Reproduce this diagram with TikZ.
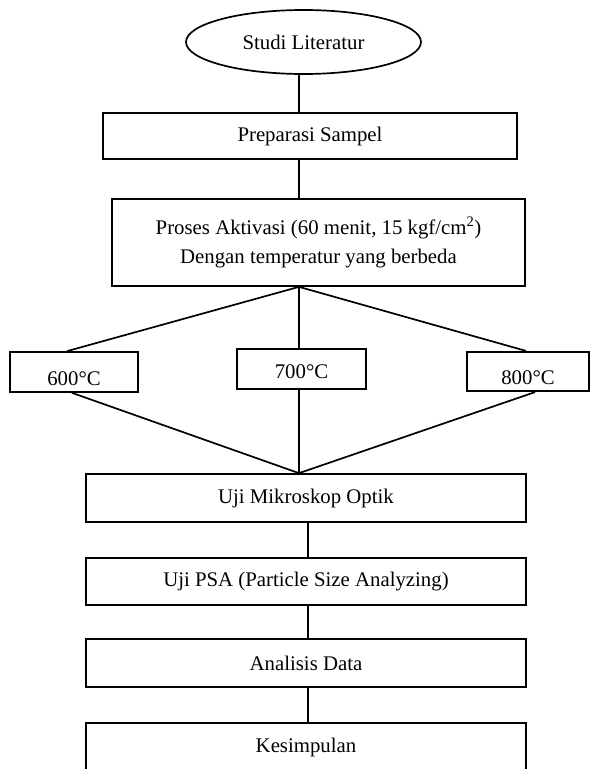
\documentclass[tikz,border=0pt]{standalone}
\usepackage{fontspec}
\setmainfont{Liberation Serif}
\usetikzlibrary{shapes.geometric}

% lower a label inside its box without changing the box
\newcommand{\lowertext}[2]{\raisebox{-#1pt}[14pt][0pt]{#2}}

\begin{document}
\begin{tikzpicture}[x=1pt,y=-1pt,
  line width=1.7pt,
  every node/.style={font=\fontsize{20.8}{29}\selectfont, inner sep=0pt},
  procbox/.style={draw, rectangle, align=center},
  startshape/.style={draw, ellipse},
  link/.style={draw, line width=1.7pt}]

  \useasboundingbox (0,0) rectangle (590,769);

  % helper x positions for the connectors
  \coordinate (cx) at (299,0);
  \coordinate (cy) at (308,0);
  \coordinate (a600) at (67,0);
  \coordinate (b600) at (72,0);
  \coordinate (a800) at (526,0);
  \coordinate (b800) at (535,0);

  % start
  \node[startshape, minimum width=235, minimum height=64] (studi) at (303.5,42) {Studi Literatur};

  % preparation and activation
  \node[procbox, minimum width=414, minimum height=46] (prep) at (310,136) {Preparasi Sampel};
  \node[procbox, minimum width=413, minimum height=87] (proses) at (318.5,242.5)
    {Proses Aktivasi (60 menit, 15 kgf/cm\textsuperscript{2})\\Dengan temperatur yang berbeda};

  % temperature variants
  \node[procbox, minimum width=128, minimum height=40] (t600) at (74,372) {\lowertext{6}{600°C}};
  \node[procbox, minimum width=129, minimum height=40] (t700) at (301.5,369) {\lowertext{2}{700°C}};
  \node[procbox, minimum width=122, minimum height=39.5] (t800) at (528,371.5) {\lowertext{6}{800°C}};

  % testing and conclusion
  \node[procbox, minimum width=440, minimum height=48] (uji) at (306,498) {Uji Mikroskop Optik};
  \node[procbox, minimum width=440, minimum height=47] (psa) at (306,581.5) {Uji PSA (Particle Size Analyzing)};
  \node[procbox, minimum width=440, minimum height=48] (anal) at (306,663) {Analisis Data};
  \node[procbox, minimum width=440, minimum height=48] (kes) at (306,747) {Kesimpulan};

  % connectors
  \draw[link] (studi.south -| cx) -- (prep.north -| cx);
  \draw[link] (prep.south -| cx) -- (proses.north -| cx);

  \draw[link] (proses.south -| cx) -- (t600.north -| a600);
  \draw[link] (proses.south -| cx) -- (t700.north -| cx);
  \draw[link] (proses.south -| cx) -- (t800.north -| a800);

  \draw[link] (t600.south -| b600) -- (uji.north -| cx);
  \draw[link] (t700.south -| cx) -- (uji.north -| cx);
  \draw[link] (t800.south -| b800) -- (uji.north -| cx);

  \draw[link] (uji.south -| cy) -- (psa.north -| cy);
  \draw[link] (psa.south -| cy) -- (anal.north -| cy);
  \draw[link] (anal.south -| cy) -- (kes.north -| cy);
\end{tikzpicture}
\end{document}
